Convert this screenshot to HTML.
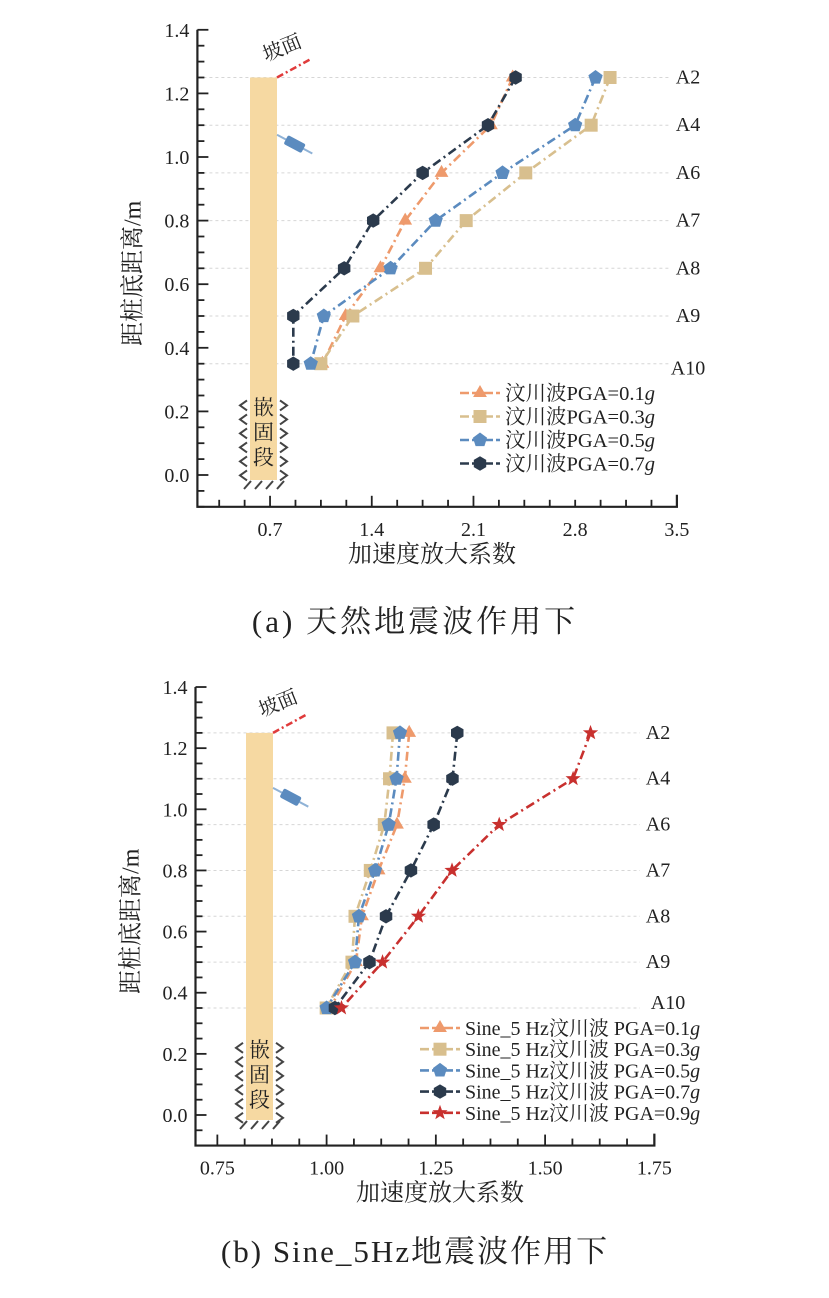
<!DOCTYPE html>
<html><head><meta charset="utf-8">
<style>
body{margin:0;background:#fff;}
svg{display:block;font-family:"Liberation Serif","Noto Serif CJK SC",serif;}
</style></head>
<body>
<svg id="fig" width="829" height="1298" viewBox="0 0 829 1298" xmlns="http://www.w3.org/2000/svg">
<text x="415" y="632" font-size="31" text-anchor="middle" fill="#222" letter-spacing="3">(a) 天然地震波作用下</text>
<text x="415" y="1262" font-size="31" text-anchor="middle" fill="#222" letter-spacing="2">(b) Sine_5Hz地震波作用下</text>
</svg>
<script>
// ---- data (chart a) ----
const heights = [1.25, 1.10, 0.95, 0.80, 0.65, 0.50, 0.35];
const sensorLabels = ['A2','A4','A6','A7','A8','A9','A10'];
const aTicksX = [0.7, 1.4, 2.1, 2.8, 3.5];
const yTicks = [0.0, 0.2, 0.4, 0.6, 0.8, 1.0, 1.2, 1.4];
const aSeriesNames = ['汶川波PGA=0.1','汶川波PGA=0.3','汶川波PGA=0.5','汶川波PGA=0.7'];
const aPGA01 = [2.37, 2.22, 1.88, 1.63, 1.46, 1.22, 1.06];
const aPGA03 = [3.04, 2.91, 2.46, 2.05, 1.77, 1.27, 1.05];
const aPGA05 = [2.94, 2.80, 2.30, 1.84, 1.53, 1.07, 0.98];
const aPGA07 = [2.39, 2.20, 1.75, 1.41, 1.21, 0.86, 0.86];
// ---- data (chart b) ----
const bTicksX = [0.75, 1.00, 1.25, 1.50, 1.75];
const bSeriesNames = ['Sine_5 Hz汶川波 PGA=0.1','Sine_5 Hz汶川波 PGA=0.3','Sine_5 Hz汶川波 PGA=0.5','Sine_5 Hz汶川波 PGA=0.7','Sine_5 Hz汶川波 PGA=0.9'];
const bPGA01 = [1.189, 1.179, 1.161, 1.119, 1.081, 1.067, 1.008];
const bPGA03 = [1.152, 1.144, 1.132, 1.100, 1.065, 1.058, 0.999];
const bPGA05 = [1.168, 1.160, 1.142, 1.111, 1.074, 1.065, 1.000];
const bPGA07 = [1.299, 1.288, 1.245, 1.193, 1.136, 1.098, 1.019];
const bPGA09 = [1.604, 1.564, 1.395, 1.287, 1.210, 1.128, 1.034];

const NS='http://www.w3.org/2000/svg';
const svg=document.getElementById('fig');
function mk(tag,attrs,parent){const e=document.createElementNS(NS,tag);for(const k in attrs)e.setAttribute(k,attrs[k]);(parent||svg).appendChild(e);return e;}

const COLORS=['#ee9a6c','#d8bf8e','#5b8bbf','#2b3a4c','#c8302e'];
const SHAPES=['tri','sq','pent','hex','star'];

function marker(g,shape,cx,cy,color){
  let pts=[];
  const poly=(n,r,rot)=>{for(let i=0;i<n;i++){const a=rot+i*2*Math.PI/n;pts.push((cx+r*Math.cos(a)).toFixed(1)+','+(cy+r*Math.sin(a)).toFixed(1));}};
  if(shape==='tri')poly(3,8,-Math.PI/2);
  else if(shape==='sq'){const s=6.5;pts=[`${cx-s},${cy-s}`,`${cx+s},${cy-s}`,`${cx+s},${cy+s}`,`${cx-s},${cy+s}`];}
  else if(shape==='pent')poly(5,7.5,-Math.PI/2);
  else if(shape==='hex')poly(6,7.2,-Math.PI/2);
  else {for(let i=0;i<10;i++){const r=i%2?3.3:8;const a=-Math.PI/2+i*Math.PI/5;pts.push((cx+r*Math.cos(a)).toFixed(1)+','+(cy+r*Math.sin(a)).toFixed(1));}}
  return mk('polygon',{points:pts.join(' '),fill:color},g);
}

function drawChart(cfg){
  const g=mk('g',{});
  
  
  const X=v=>cfg.x0+(v-cfg.xmin)*cfg.kx;
  const Y=v=>cfg.y0-v*cfg.ky;
  const L=X(cfg.xmin),R=X(cfg.xmax),T=Y(1.4),B=Y(-0.1);
  heights.forEach((h,i)=>{
    const gl=mk('line',{x1:L,x2:cfg.labX-18,y1:Y(h),y2:Y(h),stroke:'#d6d6d6','stroke-width':1,'stroke-dasharray':'3,3'},g);
    
    
    const last=i===6;
    const t=mk('text',{x:cfg.labX+(last?cfg.a10dx:0),y:Y(h)+6+(last?cfg.a10dy:0),'font-size':20,fill:'#222','text-anchor':'middle'},g);
    t.textContent=sensorLabels[i];
    
    
  });
  const pile=mk('rect',{x:cfg.pileX,y:Y(1.25),width:27,height:Y(0.0)+5-Y(1.25),fill:'#f6d9a2'},g);
  
  
  const hatch=mk('g',{stroke:'#444','stroke-width':2,fill:'none'},g);
  
  
  for(let k=0;k<6;k++){
    const yy=Y(0.2)+k*14-6;
    mk('polyline',{points:`${cfg.pileX-3},${yy-5} ${cfg.pileX-10},${yy} ${cfg.pileX-3},${yy+5}`},hatch);
    mk('polyline',{points:`${cfg.pileX+30},${yy-5} ${cfg.pileX+37},${yy} ${cfg.pileX+30},${yy+5}`},hatch);
  }
  for(let k=0;k<4;k++){const xx=cfg.pileX-6+k*11;mk('line',{x1:xx,y1:Y(0)+14,x2:xx+7,y2:Y(0)+6},hatch);}
  ['嵌','固','段'].forEach((c,i)=>{const t=mk('text',{x:cfg.pileX+13.5,y:Y(0.2)+i*25+3,'font-size':21,fill:'#222','text-anchor':'middle'},g);t.textContent=c;
    
    });
  const sl=mk('line',{x1:cfg.pileX+27,y1:Y(1.25),x2:cfg.pileX+60,y2:Y(1.25)-18,stroke:'#e03b3b','stroke-width':2.5,'stroke-dasharray':'7,3,2,3'},g);
  
  
  const st=mk('text',{x:cfg.pileX+16,y:Y(1.25)-16,'font-size':20,fill:'#222',transform:`rotate(-22 ${cfg.pileX+16} ${Y(1.25)-16})`},g);
  st.textContent='坡面';
  
  
  const sx=cfg.pileX+27,sy=Y(1.07);
  const sg=mk('g',{transform:`translate(${sx},${sy}) rotate(28)`},g);
  
  
  mk('line',{x1:0,y1:0,x2:40,y2:0,stroke:'#8fb2d6','stroke-width':2},sg);
  mk('rect',{x:10,y:-5,width:20,height:10,rx:2,fill:'#5b8bbf'},sg);
  const ax=mk('path',{d:`M${L},${T} L${L},${B} L${R},${B} L${R},${B-12}`,stroke:'#222','stroke-width':2.2,fill:'none'},g);
  
  
  for(let v=-0.1;v<=1.4001;v+=0.05){
    const major=Math.abs(Math.round(v/0.2)*0.2-v)<1e-6;
    mk('line',{x1:L,x2:L+(major?11:7),y1:Y(v),y2:Y(v),stroke:'#222','stroke-width':1.8},g);
  }
  yTicks.forEach(v=>{const t=mk('text',{x:L-8,y:Y(v)+7,'font-size':20,fill:'#222','text-anchor':'end'},g);t.textContent=v.toFixed(1);
    
    });
  const step=(cfg.ticks[1]-cfg.ticks[0])/4;
  for(let v=cfg.ticks[0];v<=cfg.xmax+1e-6;v+=step){mk('line',{x1:X(v),x2:X(v),y1:B,y2:B-(Math.abs(((v-cfg.ticks[0])/step)%4)<1e-6?11:7),stroke:'#222','stroke-width':1.8},g);}
  for(let v=cfg.ticks[0]-step;v>cfg.xmin+1e-6;v-=step){mk('line',{x1:X(v),x2:X(v),y1:B,y2:B-7,stroke:'#222','stroke-width':1.8},g);}
  cfg.ticks.forEach(v=>{const t=mk('text',{x:X(v),y:B+29,'font-size':20,fill:'#222','text-anchor':'middle'},g);t.textContent=cfg.fmt(v);
    
    });
  const xt=mk('text',{x:cfg.xTitleX,y:B+55,'font-size':24,fill:'#222','text-anchor':'middle'},g);xt.textContent='加速度放大系数';
  
  
  const ytx=L-57,yty=(T+B)/2+5;
  const yt=mk('text',{x:ytx,y:yty,'font-size':24,fill:'#222','text-anchor':'middle',transform:`rotate(-90 ${ytx} ${yty})`},g);yt.textContent='距桩底距离/m';
  
  
  cfg.series.forEach((vals,si)=>{
    const sg2=mk('g',{},g);
    
    
    const pts=vals.map((v,i)=>X(v).toFixed(1)+','+Y(heights[i]).toFixed(1)).join(' ');
    mk('polyline',{points:pts,fill:'none',stroke:COLORS[si],'stroke-width':2.6,'stroke-dasharray':'9,4,2,4'},sg2);
    vals.forEach((v,i)=>marker(sg2,SHAPES[si],X(v),Y(heights[i]),COLORS[si]));
  });
  const lg=mk('g',{},g);
  
  
  cfg.names.forEach((n,i)=>{
    const yy=cfg.legY+i*cfg.legDy;
    const e=mk('g',{},lg);
    
    
    mk('line',{x1:cfg.legX,x2:cfg.legX+40,y1:yy,y2:yy,stroke:COLORS[i],'stroke-width':2.6,'stroke-dasharray':'9,3'},e);
    marker(e,SHAPES[i],cfg.legX+20,yy,COLORS[i]);
    const t=mk('text',{x:cfg.legX+45,y:yy+7,'font-size':cfg.legFont,fill:'#222'},e);
    t.textContent=n;
    const gi=mk('tspan',{'font-style':'italic'},t);gi.textContent='g';
  });
}

drawChart({id:'natural',xmin:0.2,xmax:3.5,x0:197.4,kx:145.3,y0:475,ky:318,ticks:aTicksX,fmt:v=>v.toFixed(1),
  labX:688,a10dx:0,a10dy:5,pileX:250,xTitleX:432,series:[aPGA01,aPGA03,aPGA05,aPGA07],names:aSeriesNames,
  legX:460,legY:393,legDy:23.5,legFont:20.5});
drawChart({id:'sine',xmin:0.7,xmax:1.75,x0:195.5,kx:437,y0:1115,ky:305.7,ticks:bTicksX,fmt:v=>v.toFixed(2),
  labX:658,a10dx:10,a10dy:-5,pileX:246,xTitleX:440,series:[bPGA01,bPGA03,bPGA05,bPGA07,bPGA09],names:bSeriesNames,
  legX:420,legY:1028,legDy:21.2,legFont:20});
</script>
</body></html>
